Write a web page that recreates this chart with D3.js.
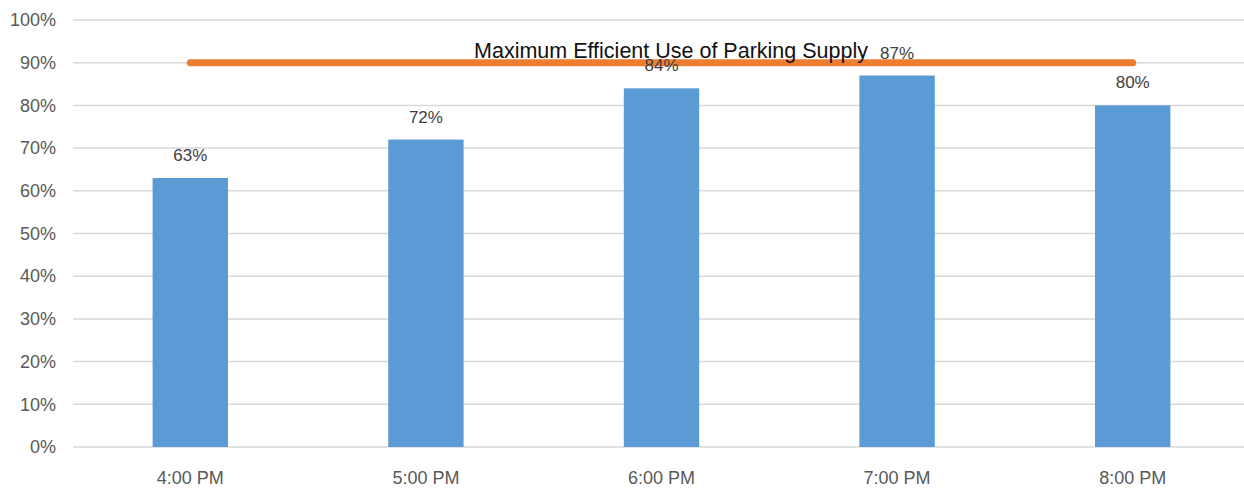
<!DOCTYPE html>
<html><head><meta charset="utf-8">
<script src="https://cdn.jsdelivr.net/npm/d3@7"></script>
<style>
html,body{margin:0;padding:0;background:#fff;}
svg{display:block;font-family:"Liberation Sans",Arial,sans-serif;}
</style></head>
<body><svg id="c" width="1244" height="490"></svg>
<script>
const categories = ["4:00 PM","5:00 PM","6:00 PM","7:00 PM","8:00 PM"];
const occupancy = [0.63,0.72,0.84,0.87,0.80];
const labels = ["63%","72%","84%","87%","80%"];
const yTicks = [0,0.1,0.2,0.3,0.4,0.5,0.6,0.7,0.8,0.9,1.0];
const threshold = 0.90;
const thresholdLabel = "Maximum Efficient Use of Parking Supply";

const svg = d3.select("#c");
const x = d3.scaleBand().domain(categories).range([72.5,1250.5]).paddingInner(0.68).paddingOuter(0.34);
const y = d3.scaleLinear().domain([0,1]).range([447,20]);

// gridlines
svg.append("g").selectAll("line").data(yTicks).join("line")
  .attr("x1",73).attr("x2",1244)
  .attr("y1",d=>y(d)).attr("y2",d=>y(d))
  .attr("stroke","#d9d9d9").attr("stroke-width",1.5);

// y axis labels
const yAxis = d3.axisLeft(y).tickValues(yTicks).tickFormat(d3.format(".0%")).tickSize(0).tickPadding(0);
const ya = svg.append("g").attr("transform","translate(56,0)").call(yAxis);
ya.select(".domain").remove();
ya.selectAll("text").attr("font-size",18).attr("fill","#595959").attr("font-family","Liberation Sans, Arial, sans-serif");

// bars
svg.append("g").selectAll("rect").data(categories).join("rect")
  .attr("x",d=>x(d)).attr("width",x.bandwidth())
  .attr("y",(d,i)=>y(occupancy[i])).attr("height",(d,i)=>y(0)-y(occupancy[i]))
  .attr("fill","#5b9bd5");

// x axis labels
const xAxis = d3.axisBottom(x).tickSize(0).tickPadding(0);
const xa = svg.append("g").attr("transform","translate(0,471)").call(xAxis);
xa.select(".domain").remove();
xa.selectAll("text").attr("font-size",18).attr("fill","#595959").attr("font-family","Liberation Sans, Arial, sans-serif");

// threshold line
svg.append("line")
  .attr("x1",x(categories[0])+x.bandwidth()/2)
  .attr("x2",x(categories[categories.length-1])+x.bandwidth()/2)
  .attr("y1",y(threshold)).attr("y2",y(threshold))
  .attr("stroke","#ed7d31").attr("stroke-width",7).attr("stroke-linecap","round");

// data labels
svg.append("g").selectAll("text").data(categories).join("text")
  .attr("x",d=>x(d)+x.bandwidth()/2)
  .attr("y",(d,i)=>y(occupancy[i])-17)
  .attr("text-anchor","middle").attr("font-size",17).attr("fill","#404040")
  .text((d,i)=>labels[i]);

// threshold label
svg.append("text").attr("x",671).attr("y",58).attr("text-anchor","middle")
  .attr("font-size",21.5).attr("fill","#111").text(thresholdLabel);
</script></body></html>
